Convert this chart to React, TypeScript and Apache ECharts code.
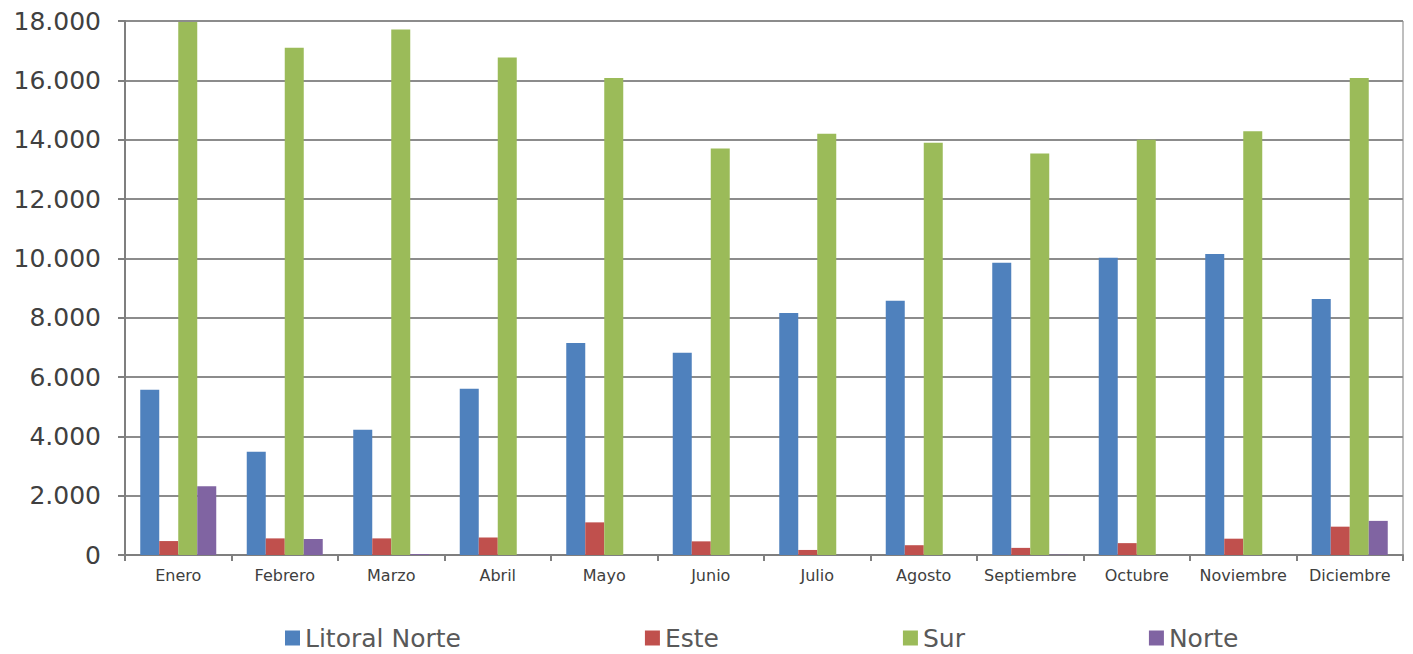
import React, { useEffect, useRef } from "react";
import * as echarts from "echarts";

const categories = ["Enero", "Febrero", "Marzo", "Abril", "Mayo", "Junio", "Julio", "Agosto", "Septiembre", "Octubre", "Noviembre", "Diciembre"];
const litoralNorte = [5570, 3480, 4220, 5600, 7150, 6820, 8160, 8570, 9850, 10020, 10150, 8630];
const este = [470, 560, 560, 590, 1100, 460, 170, 330, 240, 400, 550, 955];
const sur = [17970, 17100, 17710, 16770, 16080, 13700, 14200, 13900, 13530, 14000, 14280, 16080];
const norte = [2320, 540, 30, 0, 0, 0, 0, 0, 10, 0, 0, 1150];
const yTicks = [0, 2000, 4000, 6000, 8000, 10000, 12000, 14000, 16000, 18000];

const FONT = "'DejaVu Sans', 'Noto Sans', sans-serif";

export default function App() {
  const ref = useRef<HTMLDivElement>(null);
  useEffect(() => {
    const chart = echarts.init(ref.current!, null, { renderer: "svg" });
    const mk = (name: string, data: number[], color: string) => ({
      name,
      type: "bar",
      data,
      barWidth: 19,
      barGap: "0%",
      itemStyle: { color },
    });
    chart.setOption({
      animation: false,
      textStyle: { fontFamily: FONT },
      grid: {
        left: 125,
        right: 10,
        top: 21,
        bottom: 99,
        show: true,
        borderColor: "#7f7f7f",
        borderWidth: 1,
      },
      legend: {
        top: 623,
        left: 285,
        padding: 0,
        itemGap: 184,
        itemWidth: 15,
        itemHeight: 15,
        icon: "rect",
        textStyle: { fontSize: 25, lineHeight: 30, color: "#595959", fontFamily: FONT },
        data: ["Litoral Norte", "Este", "Sur", "Norte"],
      },
      xAxis: {
        type: "category",
        data: categories,
        axisLine: { lineStyle: { color: "#7f7f7f", width: 2 } },
        axisTick: { show: true, length: 6, lineStyle: { color: "#7f7f7f", width: 2 } },
        axisLabel: { interval: 0, fontSize: 16, color: "#404040", margin: 12, fontFamily: FONT },
      },
      yAxis: {
        type: "value",
        min: 0,
        max: yTicks[yTicks.length - 1],
        interval: 2000,
        axisLine: { show: true, lineStyle: { color: "#7f7f7f", width: 2 } },
        axisTick: { show: true, length: 7, lineStyle: { color: "#7f7f7f", width: 2 } },
        splitLine: { lineStyle: { color: "#8c8c8c", width: 2 } },
        axisLabel: {
          fontSize: 25,
          color: "#404040",
          margin: 24,
          fontFamily: FONT,
          formatter: (v: number) => (v === 0 ? "0" : v.toString().replace(/\B(?=(\d{3})+(?!\d))/g, ".")),
        },
      },
      series: [
        mk("Litoral Norte", litoralNorte, "#4F81BD"),
        mk("Este", este, "#C0504D"),
        mk("Sur", sur, "#9BBB59"),
        mk("Norte", norte, "#8064A2"),
      ],
    });
    return () => chart.dispose();
  }, []);
  return <div ref={ref} style={{ position: "fixed", top: 0, left: 0, width: 1413, height: 654, background: "#fff" }} />;
}
